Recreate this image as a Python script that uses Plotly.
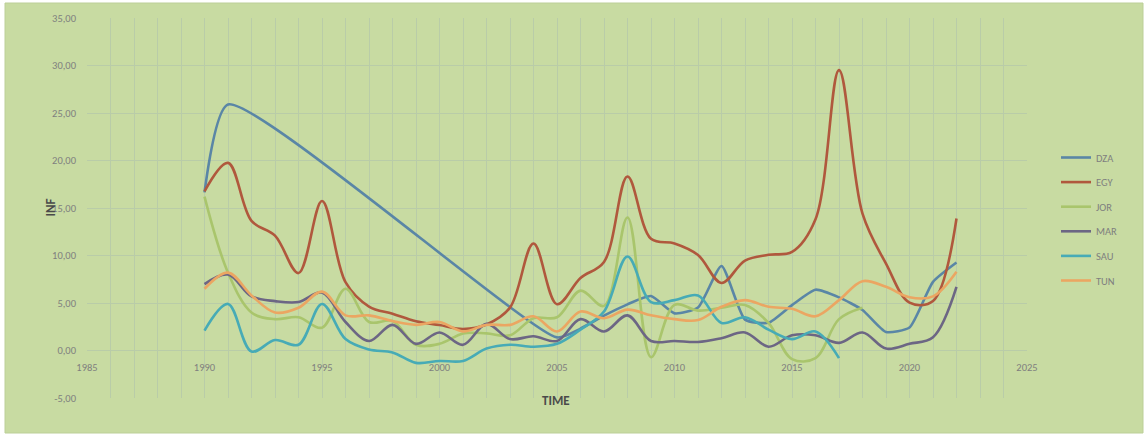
import plotly.graph_objects as go

# Inflation (annual %, CPI) by country, 1990-2022; None = no observation
years = list(range(1990, 2023))

DZA = [16.65, 25.89, None, None, None, None, None, None, None, None,
       None, None, None, None, None, 1.38, 2.31, 3.67, 4.86, 5.73,
       3.91, 4.52, 8.89, 3.25, 2.92, 4.78, 6.40, 5.59, 4.27, 1.95,
       2.42, 7.23, 9.27]
EGY = [16.76, 19.75, 13.64, 12.09, 8.15, 15.74, 7.19, 4.63, 3.87, 3.08,
       2.68, 2.27, 2.74, 4.51, 11.27, 4.87, 7.64, 9.32, 18.32, 11.76,
       11.27, 10.06, 7.11, 9.47, 10.07, 10.37, 13.81, 29.51, 14.40, 9.15,
       5.04, 5.21, 13.90]
JOR = [16.20, 8.20, 4.00, 3.30, 3.50, 2.40, 6.50, 3.00, 3.10, 0.60,
       0.70, 1.80, 1.80, 1.60, 3.40, 3.50, 6.30, 4.70, 14.00, -0.70,
       4.80, 4.20, 4.50, 4.80, 2.90, -0.90, -0.80, 3.30, 4.50, None,
       None, None, None]
MAR = [6.98, 8.00, 5.70, 5.20, 5.10, 6.10, 3.00, 1.00, 2.70, 0.70,
       1.90, 0.60, 2.80, 1.20, 1.50, 1.00, 3.30, 2.00, 3.70, 1.00,
       1.00, 0.90, 1.30, 1.90, 0.40, 1.60, 1.60, 0.80, 1.90, 0.20,
       0.70, 1.40, 6.70]
SAU = [2.10, 4.90, -0.10, 1.10, 0.60, 4.90, 1.20, 0.10, -0.20, -1.30,
       -1.10, -1.10, 0.20, 0.60, 0.40, 0.70, 2.20, 4.10, 9.90, 5.10,
       5.30, 5.80, 2.90, 3.50, 2.20, 1.20, 2.00, -0.80, None, None,
       None, None, None]
TUN = [6.50, 8.20, 5.80, 4.00, 4.50, 6.20, 3.70, 3.70, 3.10, 2.70,
       3.00, 2.00, 2.70, 2.70, 3.60, 2.00, 4.10, 3.40, 4.30, 3.70,
       3.30, 3.20, 4.60, 5.30, 4.60, 4.40, 3.60, 5.30, 7.30, 6.70,
       5.60, 5.70, 8.30]

series_names = ["DZA", "EGY", "JOR", "MAR", "SAU", "TUN"]
series_values = [DZA, EGY, JOR, MAR, SAU, TUN]
series_colors = ["#5a86a6", "#b0583d", "#a9c56c", "#6c6684", "#47abb6", "#eba662"]
# DZA has a long gap, so its spline is kept tighter to avoid bulging
series_smoothing = [0.55, 1.0, 1.0, 1.0, 1.0, 1.0]

y_ticks = [-5, 0, 5, 10, 15, 20, 25, 30, 35]
y_tick_labels = ["-5,00", "0,00", "5,00", "10,00", "15,00", "20,00", "25,00", "30,00", "35,00"]
x_ticks = [1985, 1990, 1995, 2000, 2005, 2010, 2015, 2020, 2025]
x_tick_labels = [str(v) for v in x_ticks]

BG = "#c8dba2"
GRID = "#b9cca8"
FONT = "Calibri, Carlito, 'Liberation Sans', Arial, sans-serif"
TICK_SIZE = 10.5

fig = go.Figure()
for name, vals, col, sm in zip(series_names, series_values, series_colors, series_smoothing):
    fig.add_trace(go.Scatter(
        x=years, y=vals, name=name, mode="lines",
        line=dict(color=col, width=2.6, shape="spline", smoothing=sm),
        connectgaps=True, legendgroup=name,
    ))

W, H = 1147, 437
L, R, T, B = 87, 120, 18, 39
plot_w = W - L - R
plot_h = H - T - B

def px_x(px):
    return (px - L) / plot_w

def px_y(py):
    return (H - B - py) / plot_h

fig.update_layout(
    width=W, height=H,
    margin=dict(l=L, r=R, t=T, b=B, autoexpand=False),
    paper_bgcolor="white",
    plot_bgcolor="rgba(0,0,0,0)",
    font=dict(family=FONT, size=TICK_SIZE, color="#7f7f7f"),
    showlegend=True,
    legend=dict(
        x=px_x(1056), y=px_y(143), xanchor="left", yanchor="top",
        bgcolor="rgba(0,0,0,0)", font=dict(size=TICK_SIZE, color="#7f7f7f"),
        tracegroupgap=5.6, itemwidth=30,
    ),
    shapes=[dict(
        type="rect", xref="paper", yref="paper", layer="below",
        x0=px_x(5), x1=px_x(1143), y0=px_y(433), y1=px_y(3),
        fillcolor=BG, line=dict(color="#bccf98", width=1),
    )],
    annotations=[
        dict(text="<b>TIME</b>", xref="paper", yref="paper",
             x=px_x(556), y=px_y(410), showarrow=False,
             font=dict(family=FONT, size=13, color="#4a4a4a")),
        dict(text="<b>INF</b>", xref="paper", yref="paper",
             x=px_x(40), y=px_y(208), showarrow=False, textangle=-90,
             font=dict(family=FONT, size=13, color="#4a4a4a")),
    ],
)

fig.update_xaxes(
    range=[1985, 2025],
    tickvals=x_ticks, ticktext=x_tick_labels,
    showgrid=True, gridcolor=GRID, gridwidth=1,
    minor=dict(dtick=1, showgrid=True, gridcolor=GRID, gridwidth=1),
    zeroline=False, showline=False,
    anchor="free", position=px_y(351),
    ticks="", ticklabelstandoff=8,
    tickfont=dict(size=TICK_SIZE, color="#7f7f7f"),
)
fig.update_yaxes(
    range=[-5, 35],
    tickvals=y_ticks, ticktext=y_tick_labels,
    showgrid=True, gridcolor=GRID, gridwidth=1,
    zeroline=False, showline=False,
    ticks="", ticklabelstandoff=10,
    tickfont=dict(size=TICK_SIZE, color="#7f7f7f"),
)

fig.write_html("out.html", config={"displayModeBar": False})
